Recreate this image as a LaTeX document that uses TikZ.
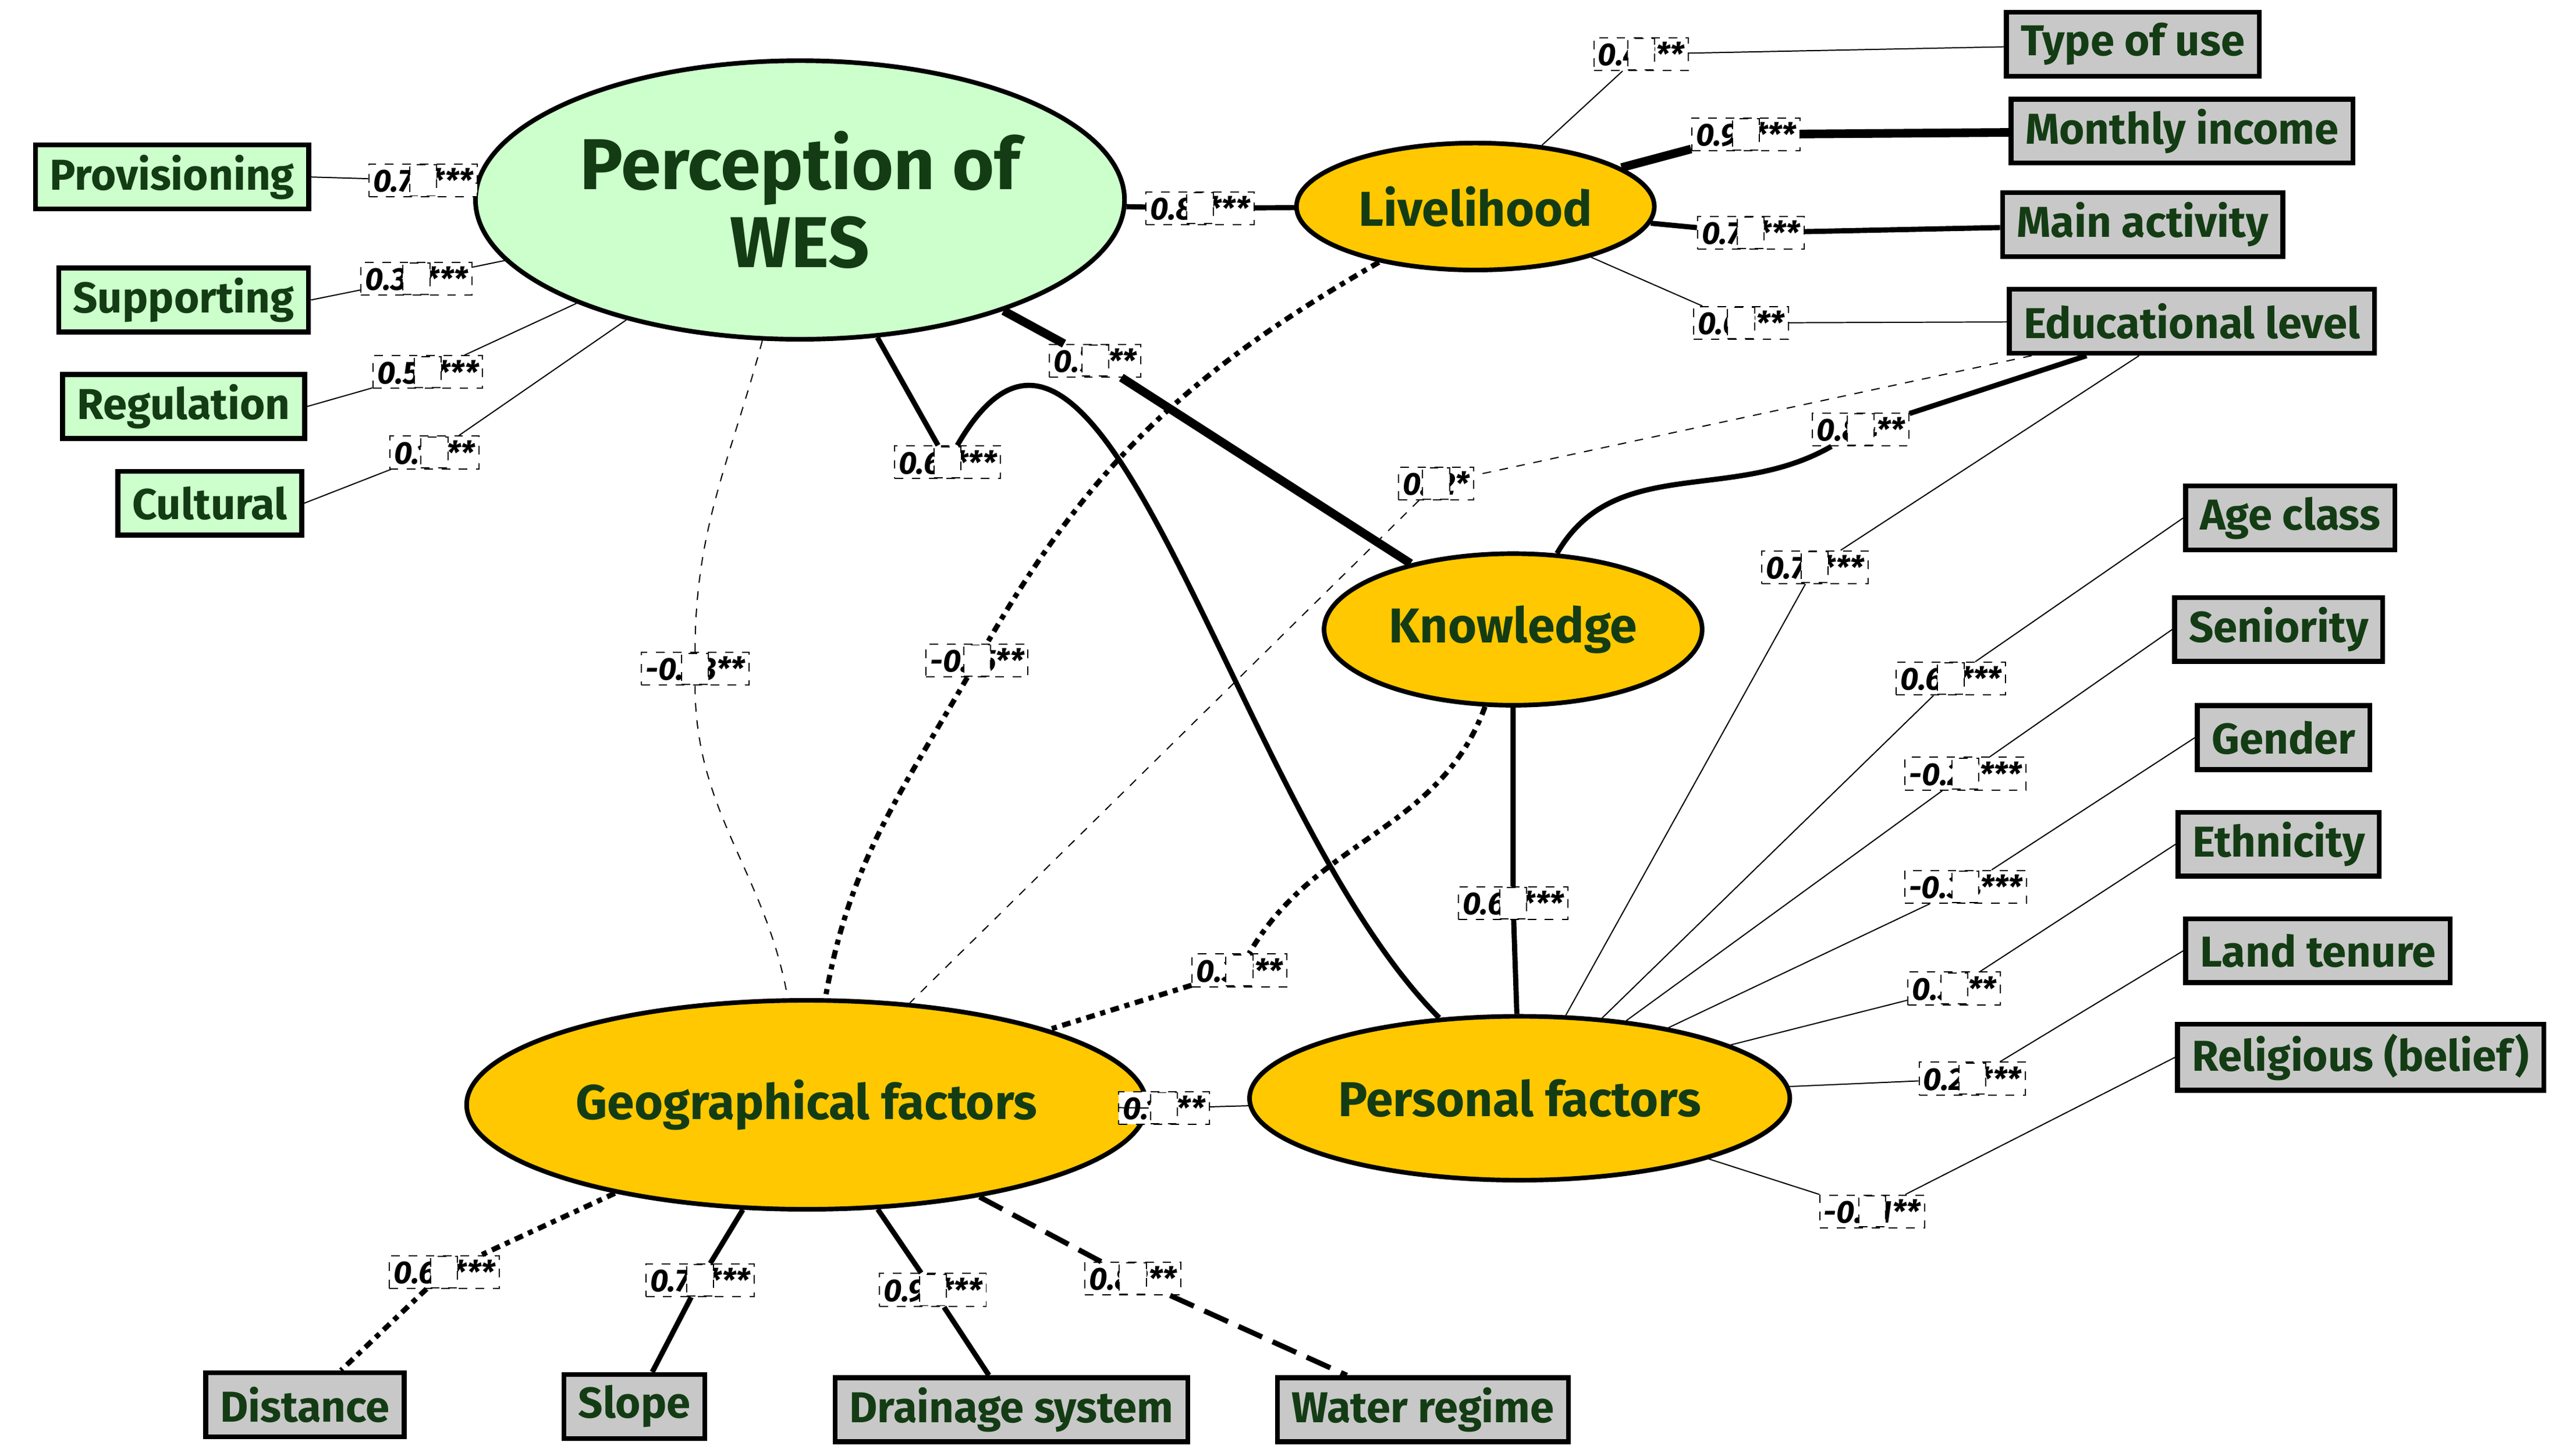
\documentclass[tikz,border=0pt]{standalone}
\usepackage{fontspec}
\setmainfont{Fira Sans}
\usetikzlibrary{shapes.geometric}
\definecolor{wesgreen}{RGB}{204,255,204}
\definecolor{factorange}{RGB}{255,200,0}
\definecolor{boxgrey}{RGB}{200,200,200}
\definecolor{txtgreen}{RGB}{20,60,20}
\begin{document}
\begin{tikzpicture}[x=0.02cm,y=-0.02cm,
  blob/.style = {ellipse,draw,line width=1.6pt,fill=factorange,text=txtgreen,
                 font=\fontsize{17}{20}\selectfont\bfseries},
  item/.style = {draw,line width=1.7pt,fill=boxgrey,text=txtgreen,minimum height=0.78cm,
                 inner xsep=5pt,font=\fontsize{15}{18}\selectfont\bfseries},
  gitem/.style = {item,fill=wesgreen},
  lbl/.style = {draw,dashed,thin,fill=white,inner sep=1.5pt,
                font=\fontsize{11}{13}\selectfont\bfseries\itshape},
  thn/.style = {thin},
  thk/.style = {line width=1.8pt},
  vthk/.style = {line width=3pt}]
\useasboundingbox (0,0) rectangle (1561,888);

% latent variables
\node[blob,fill=wesgreen,minimum width=344\pgflinewidth,minimum width=6.9cm,minimum height=3.4cm,
      font=\fontsize{25}{27}\selectfont\bfseries,align=center] (wes) at (488,122) {Perception of\\WES};
\node[blob,minimum width=3.7cm,minimum height=1.55cm] (liv) at (900,126) {Livelihood};
\node[blob,minimum width=4.2cm,minimum height=1.85cm] (know) at (923,384) {Knowledge};
\node[blob,minimum width=7.2cm,minimum height=2.55cm] (geo) at (492,674) {Geographical factors};
\node[blob,minimum width=5.45cm,minimum height=2cm] (pers) at (927,670) {Personal factors};

% indicators
\node[gitem] (prov) at (105,108) {Provisioning};
\node[gitem] (supp) at (112,183) {Supporting};
\node[gitem] (reg)  at (112,248) {Regulation};
\node[gitem] (cult) at (128,307) {Cultural};
\node[item] (use)  at (1301,27)  {Type of use};
\node[item] (inc)  at (1331,80)  {Monthly income};
\node[item] (act)  at (1307,137) {Main activity};
\node[item] (edu)  at (1337,196) {Educational level};
\node[item] (age)  at (1397,316) {Age class};
\node[item] (sen)  at (1390,384) {Seniority};
\node[item] (gen)  at (1393,450) {Gender};
\node[item] (eth)  at (1390,515) {Ethnicity};
\node[item] (land) at (1414,580) {Land tenure};
\node[item] (rel)  at (1440,645) {Religious (belief)};
\node[item] (dist) at (186,857)  {Distance};
\node[item] (slo)  at (387,858)  {Slope};
\node[item] (dra)  at (617,860)  {Drainage system};
\node[item] (wat)  at (868,860)  {Water regime};

% coefficients
\node[lbl] (l1)  at (732,127) {0.81***};
\node[lbl] (l2)  at (668,220) {0.7***};
\node[lbl] (l3)  at (578,282) {0.61***};
\node[lbl] (l4)  at (424,408) {-0.33**};
\node[lbl] (l5)  at (596,403) {-0.15**};
\node[lbl] (l6)  at (876,295) {0.12*};
\node[lbl] (l7)  at (1135,262) {0.84**};
\node[lbl] (l8)  at (1107,346) {0.72***};
\node[lbl] (l9)  at (923,551) {0.65***};
\node[lbl] (l10) at (756,592) {0.32**};
\node[lbl] (l11) at (710,676) {0.16**};
\node[lbl] (l12) at (1001,33)  {0.42**};
\node[lbl] (l13) at (1065,82)  {0.92***};
\node[lbl] (l14) at (1068,142) {0.72***};
\node[lbl] (l15) at (1062,197) {0.62**};
\node[lbl] (l16) at (1190,414) {0.63***};
\node[lbl] (l17) at (1199,472) {-0.25***};
\node[lbl] (l18) at (1199,541) {-0.34***};
\node[lbl] (l19) at (1192,603) {0.31**};
\node[lbl] (l20) at (1203,658) {0.21***};
\node[lbl] (l21) at (1142,739) {-0.31**};
\node[lbl] (l22) at (258,110) {0.78***};
\node[lbl] (l23) at (254,170) {0.38***};
\node[lbl] (l24) at (261,227) {0.54***};
\node[lbl] (l25) at (265,276) {0.12**};
\node[lbl] (l26) at (271,776) {0.64***};
\node[lbl] (l27) at (427,781) {0.78***};
\node[lbl] (l28) at (569,787) {0.91***};
\node[lbl] (l29) at (691,780) {0.82**};

% paths between latent variables
\begin{scope}[on background layer/.style={}]
\draw[thk] (wes) -- (l1) -- (liv);
\draw[vthk] (wes) -- (l2) -- (know);
\draw[thk] (wes) -- (l3) to[out=60,in=135] (pers);
\draw[thn,dashed] (wes) to[out=-105,in=90] (l4) to[out=-90,in=100] (geo);
\draw[thk,dash dot] (liv) to[out=-150,in=60] (l5) to[out=-120,in=80] (geo);
\draw[thn,dashed] (edu) -- (l6) -- (geo);
\draw[thk] (edu) -- (l7) to[out=-150,in=60] (know);
\draw[thn] (edu) -- (l8) -- (pers);
\draw[thk] (know) -- (l9) -- (pers);
\draw[thk,dash dot] (know) to[out=-110,in=60] (l10) -- (geo);
\draw[thn] (geo) -- (l11) -- (pers);
% livelihood indicators
\draw[thn] (liv) -- (l12) -- (use);
\draw[vthk] (liv) -- (l13) -- (inc);
\draw[thk] (liv) -- (l14) -- (act);
\draw[thn] (liv) -- (l15) -- (edu);
% personal indicators
\foreach \l/\t in {l16/age,l17/sen,l18/gen,l19/eth,l20/land,l21/rel}
  \draw[thn] (pers) -- (\l) -- (\t.west);
% WES indicators
\foreach \l/\t in {l22/prov,l23/supp,l24/reg,l25/cult}
  \draw[thn] (wes) -- (\l) -- (\t.east);
% geographical indicators
\draw[thk,dash dot] (geo) -- (l26) -- (dist);
\draw[thk] (geo) -- (l27) -- (slo);
\draw[thk] (geo) -- (l28) -- (dra);
\draw[thk,dash pattern=on 9pt off 4pt] (geo) -- (l29) -- (wat);
\end{scope}
% labels on top
\foreach \i in {1,...,29} \node[lbl] at (l\i) {\phantom{0}};
\end{tikzpicture}
\end{document}
